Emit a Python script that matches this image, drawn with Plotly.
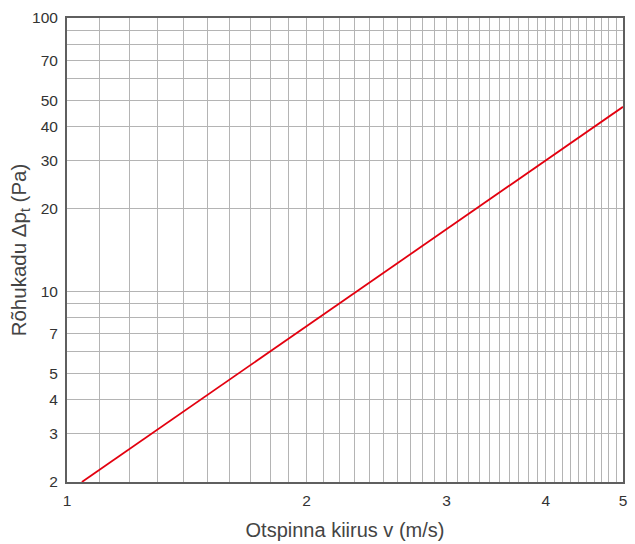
import plotly.graph_objects as go

# Data
velocity = [1.044, 2, 3, 4, 5]
pressure_drop = [2, 7.45, 16.9, 30.2, 47.3]

x_tick_vals = [1, 2, 3, 4, 5]
x_tick_text = ["1", "2", "3", "4", "5"]
x_minor_vals = [round(1 + 0.1 * i, 1) for i in range(1, 40) if i % 10 != 0]

y_tick_vals = [2, 3, 4, 5, 7, 10, 20, 30, 40, 50, 70, 100]
y_tick_text = ["2", "3", "4", "5", "7", "10", "20", "30", "40", "50", "70", "100"]
y_minor_vals = [6, 8, 9, 60, 80, 90]

font_family = "Liberation Sans, Arial, sans-serif"
grid_color = "#b4b4b4"
axis_color = "#5f5f5f"

fig = go.Figure()
fig.add_trace(go.Scatter(
    x=velocity, y=pressure_drop, mode="lines",
    line=dict(color="#e3000f", width=1.8),
    showlegend=False, hoverinfo="skip",
))

fig.update_layout(
    width=635, height=544,
    margin=dict(l=67, r=12, t=18, b=62),
    paper_bgcolor="white", plot_bgcolor="white",
    font=dict(family=font_family, color="#333333", size=15),
)

fig.update_xaxes(
    type="log", range=[0, 0.69897], automargin=False,
    tickmode="array", tickvals=x_tick_vals, ticktext=x_tick_text,
    tickfont=dict(size=15.5, color="#333333"),
    showgrid=True, gridcolor=grid_color, gridwidth=1,
    minor=dict(tickmode="array", tickvals=x_minor_vals, showgrid=True,
               gridcolor=grid_color, gridwidth=1, ticks=""),
    showline=True, linecolor=axis_color, linewidth=2, mirror=True,
    ticks="outside", ticklen=3, tickcolor="rgba(0,0,0,0)",
    zeroline=False,
    title=dict(text="Otspinna kiirus v (m/s)", font=dict(size=20, color="#444444"), standoff=15),
)

fig.update_yaxes(
    type="log", range=[0.30103, 2], automargin=False,
    tickmode="array", tickvals=y_tick_vals, ticktext=y_tick_text,
    tickfont=dict(size=15.5, color="#333333"),
    showgrid=True, gridcolor=grid_color, gridwidth=1,
    minor=dict(tickmode="array", tickvals=y_minor_vals, showgrid=True,
               gridcolor=grid_color, gridwidth=1, ticks=""),
    showline=True, linecolor=axis_color, linewidth=2, mirror=True,
    ticks="outside", ticklen=4, tickcolor="rgba(0,0,0,0)",
    zeroline=False,
    title=dict(text="Rõhukadu Δp<sub>t</sub> (Pa)", font=dict(size=20.5, color="#444444"), standoff=0),
)

fig.write_html(
    "out.html",
    config={"displayModeBar": False},
    post_script="document.body.style.margin='0';document.body.style.overflow='hidden';",
)
